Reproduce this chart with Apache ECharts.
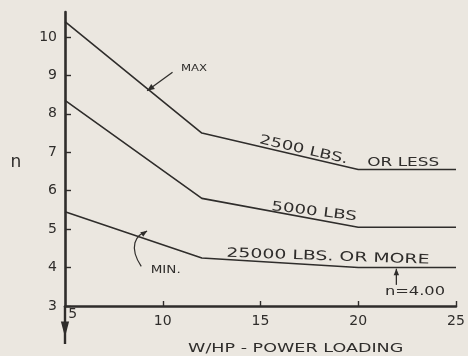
<!DOCTYPE html>
<html><head><meta charset="utf-8">
<script src="https://cdn.jsdelivr.net/npm/echarts@6/dist/echarts.min.js"></script>
<style>html,body{margin:0;padding:0;background:#ebe7e0}#c{width:468px;height:356px}</style>
</head><body><div id="c"></div>
<script>
const xValues = [5, 12, 20, 25];
const maxSeries = [10.4, 7.5, 6.55, 6.55];   // 2500 lbs or less
const midSeries = [8.35, 5.8, 5.05, 5.05];   // 5000 lbs
const minSeries = [5.45, 4.25, 4.0, 4.0];    // 25000 lbs or more
const xTicks = [5, 10, 15, 20, 25];
const yTicks = [3, 4, 5, 6, 7, 8, 9, 10];

const ink = '#2f2d2b';
const font = 'DejaVu Sans';
const chart = echarts.init(document.getElementById('c'), null, {renderer: 'canvas'});
const pair = (ys) => xValues.map((x, i) => [x, ys[i]]);
const lineSeries = (ys) => ({type: 'line', data: pair(ys), symbol: 'none',
  lineStyle: {color: ink, width: 1.6}, silent: true});

chart.setOption({
  backgroundColor: '#ebe7e0',
  animation: false,
  grid: {left: 65, right: 12, top: 12, bottom: 50},
  xAxis: {type: 'value', min: 5, max: 25, interval: 5,
    axisLine: {lineStyle: {color: ink, width: 2.6}},
    axisTick: {inside: true, length: 5, lineStyle: {color: ink, width: 1.4}},
    splitLine: {show: false},
    axisLabel: {color: ink, fontFamily: font, fontSize: 14, margin: 8,
      showMinLabel: false, formatter: v => xTicks.includes(v) ? String(v) : ''}
  },
  yAxis: {type: 'value', min: 3, max: 10.65, interval: 1,
    axisLine: {lineStyle: {color: ink, width: 2.6}},
    axisTick: {inside: true, length: 6, lineStyle: {color: ink, width: 1.4}},
    splitLine: {show: false},
    axisLabel: {color: ink, fontFamily: font, fontSize: 14, margin: 8,
      showMaxLabel: false, formatter: v => yTicks.includes(v) ? String(v) : ''}
  },
  series: [lineSeries(maxSeries), lineSeries(midSeries), lineSeries(minSeries)]
});

const P = (x, y) => chart.convertToPixel({gridIndex: 0}, [x, y]);
const txt = (x, y, s, opts = {}) => {
  const p = P(x, y);
  return {type: 'text', x: p[0] + (opts.dx || 0), y: p[1], rotation: (opts.rot || 0) * Math.PI / 180,
    scaleX: opts.sx || 1,
    style: {text: s, fill: ink, font: (opts.size || 13) + 'px "' + font + '"',
      textAlign: 'center', textVerticalAlign: 'middle'}};
};
const o = P(5, 3);
const maxA = P(10.5, 9.08), maxB = P(9.2, 8.6);
const minA = P(8.9, 4.03), minC = P(8.6, 4.75), minB = P(9.2, 4.95);
const nA = P(21.95, 3.55), nB = P(21.95, 3.97);
const arrowHead = (tip, from, size, spread) => {
  const ang = Math.atan2(tip[1] - from[1], tip[0] - from[0]);
  const s = spread || 0.4;
  const a1 = ang + Math.PI - s, a2 = ang + Math.PI + s;
  return {type: 'polygon', shape: {points: [tip,
    [tip[0] + size * Math.cos(a1), tip[1] + size * Math.sin(a1)],
    [tip[0] + size * Math.cos(a2), tip[1] + size * Math.sin(a2)]]},
    style: {fill: ink}};
};
const g = [
  {type: 'line', shape: {x1: o[0], y1: o[1], x2: o[0], y2: o[1] + 38}, style: {stroke: ink, lineWidth: 2.4}},
  arrowHead([o[0], o[1] + 31], o, 16, 0.26),
  txt(5.4, 2.79, '5', {size: 14}),
  txt(5, 6.72, 'n', {size: 17, dx: -49}),
  txt(11.6, 9.17, 'MAX', {size: 9, sx: 1.3}),
  {type: 'line', shape: {x1: maxA[0], y1: maxA[1], x2: maxB[0], y2: maxB[1]}, style: {stroke: ink, lineWidth: 1.2}},
  arrowHead(maxB, maxA, 8),
  txt(10.15, 3.92, 'MIN.', {size: 10, sx: 1.35}),
  {type: 'bezierCurve', shape: {x1: minA[0], y1: minA[1], x2: minB[0], y2: minB[1],
    cpx1: minC[0] - 7, cpy1: minC[1] + 8, cpx2: minC[0], cpy2: minC[1] - 4}, style: {stroke: ink, lineWidth: 1.2, fill: null}},
  arrowHead(minB, minC, 7),
  txt(17.2, 7.06, '2500 LBS.', {rot: -13, size: 13, sx: 1.38}),
  txt(22.3, 6.72, 'OR LESS', {size: 13, sx: 1.3}),
  txt(17.74, 5.45, '5000 LBS', {rot: -7, size: 13, sx: 1.4}),
  txt(18.45, 4.28, '25000 LBS. OR MORE', {rot: -2, size: 13, sx: 1.45}),
  txt(22.9, 3.38, 'n=4.00', {size: 13, sx: 1.25}),
  {type: 'line', shape: {x1: nA[0], y1: nA[1], x2: nB[0], y2: nB[1]}, style: {stroke: ink, lineWidth: 1.3}},
  arrowHead(nB, nA, 7),
  txt(16.8, 1.9, 'W/HP - POWER LOADING', {size: 13, sx: 1.35})
];
chart.setOption({graphic: g});
</script></body></html>
